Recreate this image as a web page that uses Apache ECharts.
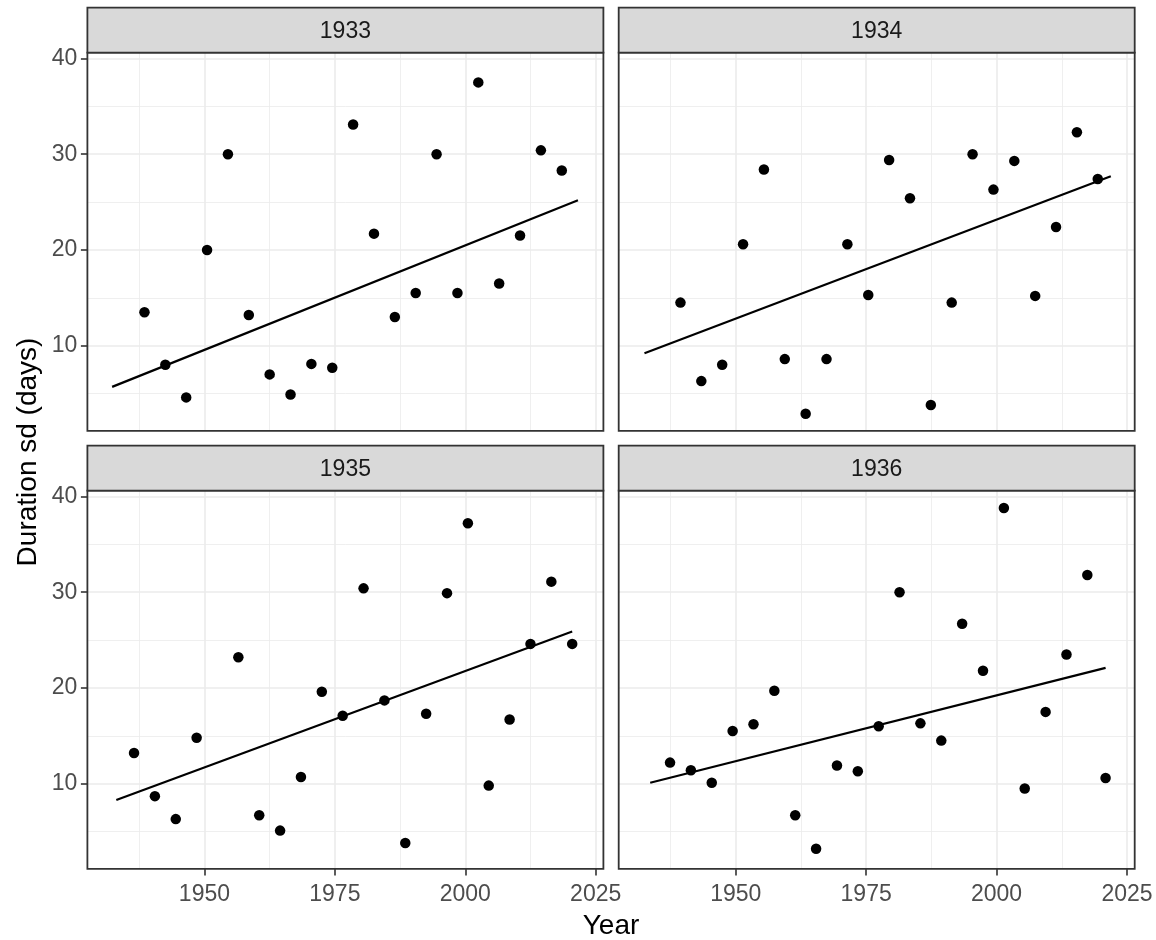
<!DOCTYPE html>
<html>
<head>
<meta charset="utf-8">
<title>Duration sd by year</title>
<script src="https://cdn.jsdelivr.net/npm/echarts@6/dist/echarts.min.js"></script>
<style>
  html, body { margin: 0; padding: 0; background: #fff; }
  #main { width: 1156px; height: 940px; }
</style>
</head>
<body>
<div id="main"></div>
<script>
// facet labels
var facets = ['1933', '1934', '1935', '1936'];

// points per facet
var years1933 = [1938.5, 1942.5, 1946.5, 1950.5, 1954.5, 1958.5, 1962.5, 1966.5, 1970.5, 1974.5, 1978.5, 1982.5, 1986.5, 1990.5, 1994.5, 1998.5, 2002.5, 2006.5, 2010.5, 2014.5, 2018.5];
var sd1933 = [13.5, 8.0, 4.6, 20.0, 30.0, 13.2, 7.0, 4.9, 8.1, 7.7, 33.1, 21.7, 13.0, 15.5, 30.0, 15.5, 37.5, 16.5, 21.5, 30.4, 28.3];

var years1934 = [1939.4, 1943.4, 1947.4, 1951.4, 1955.4, 1959.4, 1963.4, 1967.4, 1971.4, 1975.4, 1979.4, 1983.4, 1987.4, 1991.4, 1995.4, 1999.4, 2003.4, 2007.4, 2011.4, 2015.4, 2019.4];
var sd1934 = [14.5, 6.3, 8.0, 20.6, 28.4, 8.6, 2.9, 8.6, 20.6, 15.3, 29.4, 25.4, 3.8, 14.5, 30.0, 26.3, 29.3, 15.2, 22.4, 32.3, 27.4];

var years1935 = [1936.5, 1940.5, 1944.5, 1948.5, 1956.5, 1960.5, 1964.5, 1968.5, 1972.5, 1976.5, 1980.5, 1984.5, 1988.5, 1992.5, 1996.5, 2000.5, 2004.5, 2008.5, 2012.5, 2016.5, 2020.5];
var sd1935 = [13.2, 8.7, 6.3, 14.8, 23.2, 6.7, 5.1, 10.7, 19.6, 17.1, 30.4, 18.7, 3.8, 17.3, 29.9, 37.2, 9.8, 16.7, 24.6, 31.1, 24.6];

var years1936 = [1937.4, 1941.4, 1945.4, 1949.4, 1953.4, 1957.4, 1961.4, 1965.4, 1969.4, 1973.4, 1977.4, 1981.4, 1985.4, 1989.4, 1993.4, 1997.4, 2001.4, 2005.4, 2009.4, 2013.4, 2017.4, 2020.9];
var sd1936 = [12.2, 11.4, 10.1, 15.5, 16.2, 19.7, 6.7, 3.2, 11.9, 11.3, 16.0, 30.0, 16.3, 14.5, 26.7, 21.8, 38.8, 9.5, 17.5, 23.5, 31.8, 10.6];

// linear fit end points [year, sd]
var fit1933 = [[1932.3, 5.7], [2021.6, 25.2]];
var fit1934 = [[1932.5, 9.2], [2021.9, 27.7]];
var fit1935 = [[1933.1, 8.3], [2020.5, 25.9]];
var fit1936 = [[1933.6, 10.1], [2020.9, 22.1]];

// axes
var xTicks = [1950, 1975, 2000, 2025];
var xMinor = [1937.5, 1962.5, 1987.5, 2012.5];
var yTicks = [10, 20, 30, 40];
var yMinor = [5, 15, 25, 35];
var xRange = [1927.56, 2026.48];
var yRange = [1.1, 40.6];

var allYears = [years1933, years1934, years1935, years1936];
var allSd = [sd1933, sd1934, sd1935, sd1936];
var allFits = [fit1933, fit1934, fit1935, fit1936];

var FONT = 'Liberation Sans, Arial, sans-serif';
var panelLeft = [87.4, 618.7];
var panelTop = [52.7, 490.7];
var panelW = 516, panelH = 378.2, stripH = 45;

var grids = [], xAxes = [], yAxes = [], series = [], graphics = [];

function gridLines() {
  var d = [];
  xTicks.forEach(function (v) { d.push({ xAxis: v, lineStyle: { width: 1.6 } }); });
  xMinor.forEach(function (v) { d.push({ xAxis: v, lineStyle: { width: 0.8 } }); });
  yTicks.forEach(function (v) { d.push({ yAxis: v, lineStyle: { width: 1.6 } }); });
  yMinor.forEach(function (v) { d.push({ yAxis: v, lineStyle: { width: 0.8 } }); });
  return d;
}

facets.forEach(function (name, i) {
  var col = i % 2, row = Math.floor(i / 2);
  var left = panelLeft[col], top = panelTop[row];

  grids.push({
    left: left, top: top, width: panelW, height: panelH,
    show: true, borderColor: '#333333', borderWidth: 1.8,
    backgroundColor: 'transparent', z: 6
  });

  xAxes.push({
    type: 'value', gridIndex: i, min: xRange[0], max: xRange[1],
    splitLine: { show: false },
    axisLine: { show: false },
    axisTick: { show: row === 1, customValues: xTicks, length: 6.5, lineStyle: { color: '#333333', width: 1.6 } },
    axisLabel: {
      show: row === 1, customValues: xTicks, fontSize: 23, color: '#4D4D4D', fontFamily: FONT, margin: 14,
      formatter: function (v) { return String(v); }
    }
  });
  yAxes.push({
    type: 'value', gridIndex: i, min: yRange[0], max: yRange[1],
    splitLine: { show: false },
    axisLine: { show: false },
    axisTick: { show: col === 0, customValues: yTicks, length: 6.5, lineStyle: { color: '#333333', width: 1.6 } },
    axisLabel: {
      show: col === 0, customValues: yTicks, fontSize: 23, color: '#4D4D4D', fontFamily: FONT, margin: 10,
      formatter: function (v) { return String(v); }
    }
  });

  var pts = allYears[i].map(function (y, k) { return [y, allSd[i][k]]; });
  series.push({
    type: 'scatter', xAxisIndex: i, yAxisIndex: i, data: pts,
    symbolSize: 10.5, itemStyle: { color: '#000000', opacity: 1 }, z: 3,
    markLine: {
      silent: true, symbol: ['none', 'none'], z: 1, animation: false,
      label: { show: false }, emphasis: { disabled: true },
      lineStyle: { color: '#EBEBEB', type: 'solid' },
      data: gridLines()
    }
  });
  series.push({
    type: 'line', xAxisIndex: i, yAxisIndex: i, data: allFits[i],
    showSymbol: false, symbol: 'none', z: 4,
    lineStyle: { color: '#000000', width: 2.2 }
  });

  // facet strip
  var stripTop = top - stripH;
  graphics.push({
    type: 'rect', z: 10,
    shape: { x: left, y: stripTop, width: panelW, height: stripH },
    style: { fill: '#D9D9D9', stroke: '#333333', lineWidth: 1.8 }
  });
  graphics.push({
    type: 'text', z: 11, x: left + panelW / 2, y: stripTop + stripH / 2 + 1,
    style: { text: name, fill: '#1A1A1A', font: '23px ' + FONT, align: 'center', verticalAlign: 'middle' }
  });
});

graphics.push({
  type: 'text', z: 11, x: (panelLeft[0] + panelLeft[1] + panelW) / 2, y: 926,
  style: { text: 'Year', fill: '#000000', font: '28px ' + FONT, align: 'center', verticalAlign: 'middle' }
});
graphics.push({
  type: 'text', z: 11, x: 28, y: 452, rotation: Math.PI / 2,
  style: { text: 'Duration sd (days)', fill: '#000000', font: '28px ' + FONT, align: 'center', verticalAlign: 'middle' }
});

var myChart = echarts.init(document.getElementById('main'));
myChart.setOption({
  animation: false,
  backgroundColor: '#ffffff',
  grid: grids,
  xAxis: xAxes,
  yAxis: yAxes,
  series: series,
  graphic: graphics
});
</script>
</body>
</html>
